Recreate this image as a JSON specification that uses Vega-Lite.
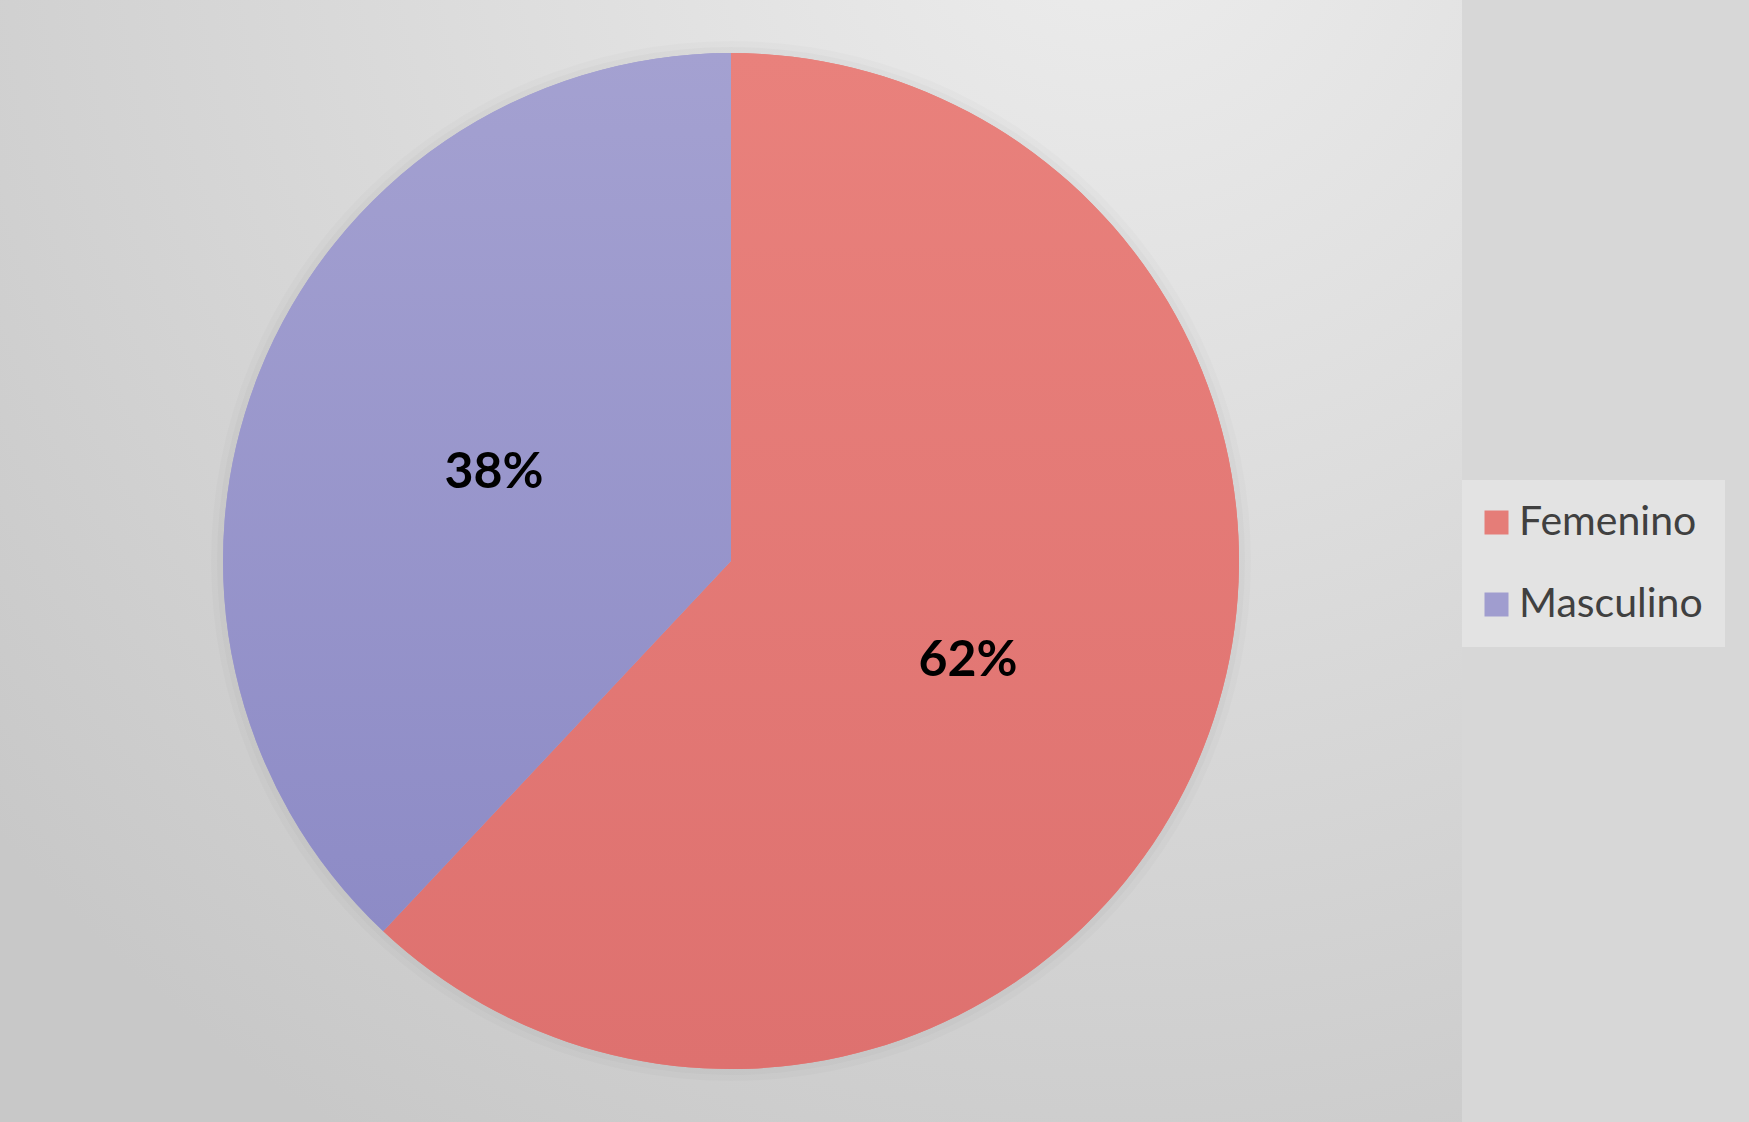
{
  "$schema": "https://vega.github.io/schema/vega-lite/v6.json",
  "width": 1462,
  "height": 1122,
  "autosize": {"type": "none"},
  "padding": {"left": 0, "top": 0, "right": 287, "bottom": 0},
  "background": "#d7d7d7",
  "config": {"view": {"stroke": null}},
  "data": {
    "values": [
      {"genero": "Femenino", "pct": 62, "etiqueta": "62%"},
      {"genero": "Masculino", "pct": 38, "etiqueta": "38%"}
    ]
  },
  "layer": [
    {
      "data": {"values": [{"bg": 1}]},
      "mark": {
        "type": "rect",
        "color": {
          "gradient": "radial",
          "x1": 0.76, "y1": 0.04, "r1": 0,
          "x2": 0.76, "y2": 0.04, "r2": 1.0,
          "stops": [
            {"offset": 0, "color": "#ededed"},
            {"offset": 1, "color": "#c8c8c8"}
          ]
        }
      },
      "encoding": {}
    },
    {
      "data": {"values": [{"bg": 1}]},
      "mark": {"type": "arc", "outerRadius": 520, "color": "#000000", "opacity": 0.015},
      "encoding": {}
    },
    {
      "data": {"values": [{"bg": 1}]},
      "mark": {"type": "arc", "outerRadius": 514, "color": "#000000", "opacity": 0.02},
      "encoding": {}
    },
    {
      "mark": {"type": "arc", "outerRadius": 508},
      "encoding": {
        "theta": {"field": "pct", "type": "quantitative", "stack": true},
        "order": {"field": "pct", "type": "quantitative", "sort": "descending"},
        "color": {
          "field": "genero",
          "type": "nominal",
          "scale": {"domain": ["Femenino", "Masculino"], "range": ["#e57d78", "#a09dcf"]},
          "legend": {
            "title": null,
            "orient": "none",
            "legendX": 1462,
            "legendY": 480,
            "symbolType": "square",
            "symbolSize": 576,
            "symbolStrokeWidth": 0,
            "symbolOpacity": 1,
            "symbolOffset": -8,
            "labelFont": "Lato",
            "labelFontSize": 41,
            "labelColor": "#404040",
            "labelOffset": 2,
            "labelLimit": 400,
            "rowPadding": 40,
            "padding": 22,
            "fillColor": "#e3e3e3"
          }
        }
      }
    },
    {
      "mark": {"type": "arc", "outerRadius": 508},
      "encoding": {
        "theta": {"field": "pct", "type": "quantitative", "stack": true},
        "order": {"field": "pct", "type": "quantitative", "sort": "descending"},
        "fill": {
          "condition": {
            "test": "datum.genero === 'Femenino'",
            "value": {
              "gradient": "linear", "x1": 0, "y1": 0, "x2": 0, "y2": 1,
              "stops": [
                {"offset": 0, "color": "#e9817c"},
                {"offset": 1, "color": "#de716f"}
              ]
            }
          },
          "value": {
            "gradient": "linear", "x1": 0, "y1": 0, "x2": 0, "y2": 1,
            "stops": [
              {"offset": 0, "color": "#a4a1d1"},
              {"offset": 1, "color": "#8d8bc6"}
            ]
          }
        }
      }
    },
    {
      "mark": {"type": "text", "radius": 255, "dy": 6, "font": "Lato", "fontWeight": "bold", "fontSize": 50, "color": "#000000"},
      "encoding": {
        "theta": {"field": "pct", "type": "quantitative", "stack": true},
        "order": {"field": "pct", "type": "quantitative", "sort": "descending"},
        "text": {"field": "etiqueta", "type": "nominal"}
      }
    }
  ]
}
